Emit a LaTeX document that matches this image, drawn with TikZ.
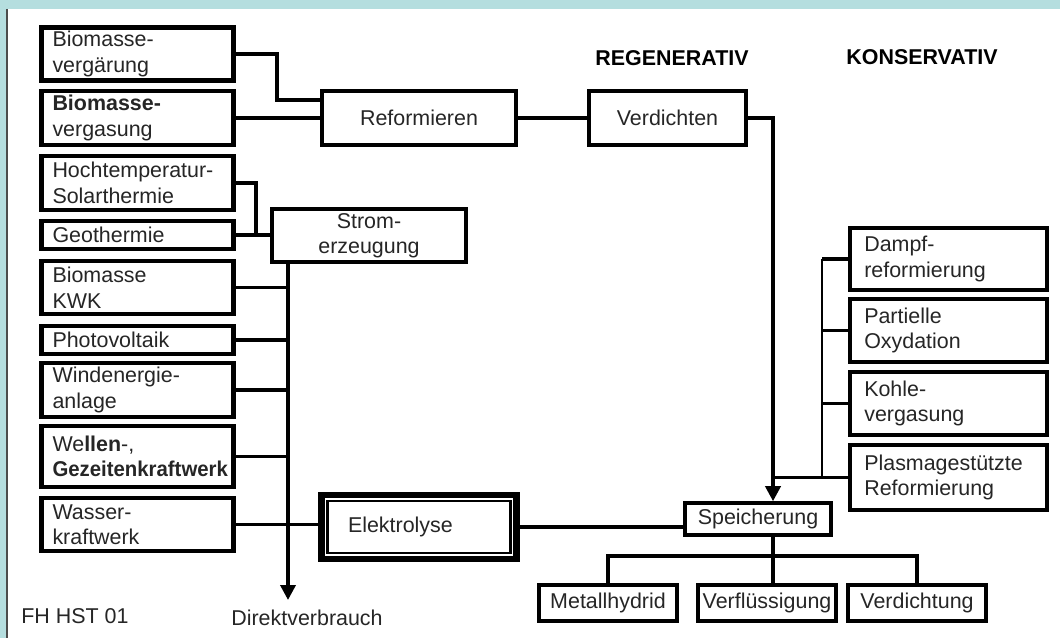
\documentclass[tikz,border=0pt]{standalone}
\usepackage{fontspec}
\setmainfont{Liberation Sans}
\usetikzlibrary{arrows.meta, positioning, calc}
\definecolor{framecyan}{HTML}{B5DEDF}
\definecolor{inkgray}{HTML}{262626}
\tikzstyle{srcbox} = [draw=black, line width=2.8pt, minimum height=1.06cm, text width=3.4cm, inner xsep=0.22cm, inner ysep=0.05cm, align=left, text=inkgray]
\tikzstyle{procbox} = [draw=black, line width=2.3pt, minimum width=3.87cm, minimum height=1.07cm, inner ysep=0.05cm, align=center, text=inkgray]
\tikzstyle{fossbox} = [draw=black, line width=2.4pt, minimum height=1.25cm, text width=3.37cm, inner xsep=0.28cm, inner ysep=0.05cm, align=left, text=inkgray]
\tikzstyle{storebox} = [draw=black, line width=2.3pt, minimum width=2.75cm, minimum height=0.71cm, inner xsep=0.05cm, inner ysep=0.05cm, text=inkgray]
\tikzstyle{conn} = [line width=2pt, color=black]
\tikzstyle{stub} = [line width=1.3pt, color=black]
\tikzstyle{arrow} = [line width=2pt, color=black, -{Triangle[length=0.3cm, width=0.3cm]}]

\begin{document}
\begin{tikzpicture}[x=0.02cm, y=-0.02cm, every node/.style={font=\fontsize{12.2}{14.5}\selectfont}]
    \useasboundingbox (0,0) rectangle (1060,638);
    \fill[framecyan] (0,0) rectangle (1060,638);
    \fill[white] (7,9) rectangle (1060,638);
    \draw[black!70, line width=0.6pt] (7,9) -- (7,638);

    % renewable sources
    \node[srcbox] (vgar) at (137.5,54) {Biomasse-\\verg\"arung};
    \node[srcbox, minimum height=1.08cm] (vgas) at (137.5,118) {\textbf{Biomasse-}\\vergasung};
    \node[srcbox, minimum height=1.08cm] (hoch) at (137.5,183) {Hochtemperatur-\\Solarthermie};
    \node[srcbox, minimum height=0.56cm] (geo) at (137.5,235) {Geothermie};
    \node[srcbox] (kwk) at (137.5,287.5) {Biomasse\\KWK};
    \node[srcbox, minimum height=0.56cm] (pv) at (137.5,340) {Photovoltaik};
    \node[srcbox, minimum height=1.08cm] (wind) at (137.5,390) {Windenergie-\\anlage};
    \node[srcbox, minimum height=1.22cm] (well) at (137.5,456.5) {We\textbf{llen}-,\\\scalebox{0.95}[1]{\textbf{Gezeitenkraftwerk}}};
    \node[srcbox] (wass) at (137.5,524.5) {Wasser-\\kraftwerk};

    % processing
    \node[procbox] (reform) at (419,118) {Reformieren};
    \node[procbox, minimum width=3.13cm] (verd) at (667.5,118) {Verdichten};
    \node[procbox, minimum height=1.05cm] (strom) at (369,235.5) {Strom-\\erzeugung};
    \node[draw=black, line width=3.6pt, minimum width=3.9cm, minimum height=1.27cm, text width=2.84cm, align=left, text=inkgray] (elektro) at (419,527) {Elektrolyse};
    \draw[line width=1.4pt] ([shift={(9,9)}]elektro.north west) rectangle ([shift={(-9,-9)}]elektro.south east);
    \node[storebox, minimum width=2.91cm, minimum height=0.63cm] (spei) at (758,519) {Speicherung};

    % conventional sources
    \node[fossbox, minimum height=1.23cm] (dampf) at (948.5,259) {Dampf-\\reformierung};
    \node[fossbox] (part) at (948.5,330.5) {Partielle\\Oxydation};
    \node[fossbox] (kohle) at (948.5,403.5) {Kohle-\\vergasung};
    \node[fossbox, minimum height=1.29cm] (plasma) at (948.5,477.5) {Plasmagest\"utzte\\Reformierung};

    % storage forms
    \node[storebox] (metall) at (608,603) {Metallhydrid};
    \node[storebox] (verfl) at (767,603) {Verfl\"ussigung};
    \node[storebox] (verdg) at (917,603) {Verdichtung};

    % labels
    \node[font=\fontsize{12.2}{14.5}\selectfont\bfseries] (regen) at (672,58) {REGENERATIV};
    \node[font=\fontsize{12.2}{14.5}\selectfont\bfseries] (konserv) at (922,57) {KONSERVATIV};
    \node[text=inkgray] (fh) at (75,616) {FH HST 01};
    \node[text=inkgray] (direkt) at (307,618) {Direktverbrauch};

    \coordinate (dv) at (288,600);
    \coordinate (stor) at (773,556);
    \coordinate (kbus) at (822,259);

    % connectors
    \draw[conn] (vgar.east) -- ++(41,0) |- ([yshift=0.36cm]reform.west);
    \draw[conn] (vgas.east) -- (vgas.east -| reform.west);
    \draw[conn] (reform.east) -- (verd.west);
    \draw[arrow] (verd.east) -| (stor |- spei.north);
    \draw[conn] (hoch.east) -- ++(20,0) |- (strom.west);
    \draw[conn] (geo.east) -- (geo.east -| strom.west);
    \draw[arrow] (strom.south -| dv) -- (dv);
    \foreach \src in {kwk,pv,wind,well}
        \draw[conn] (\src.east) -- (\src.east -| dv);
    \draw[conn] (wass.east) -- (wass.east -| elektro.west);
    \draw[conn] (elektro.east) -- (elektro.east -| spei.west);
    \draw[conn] (plasma.west) -- (plasma.west -| stor);
    \draw[conn] (dampf.west) -- (dampf.west -| kbus);
    \foreach \k in {part,kohle}
        \draw[stub] (\k.west) -- (\k.west -| kbus);
    \draw[line width=0.7pt] (dampf.west -| kbus) -- (plasma.west -| kbus);
    \draw[conn] (stor |- spei.south) -- (stor);
    \draw[conn] (metall.north) |- (stor) -| (verdg.north);
    \draw[conn] (stor) -- (stor |- verfl.north);
\end{tikzpicture}
\end{document}
